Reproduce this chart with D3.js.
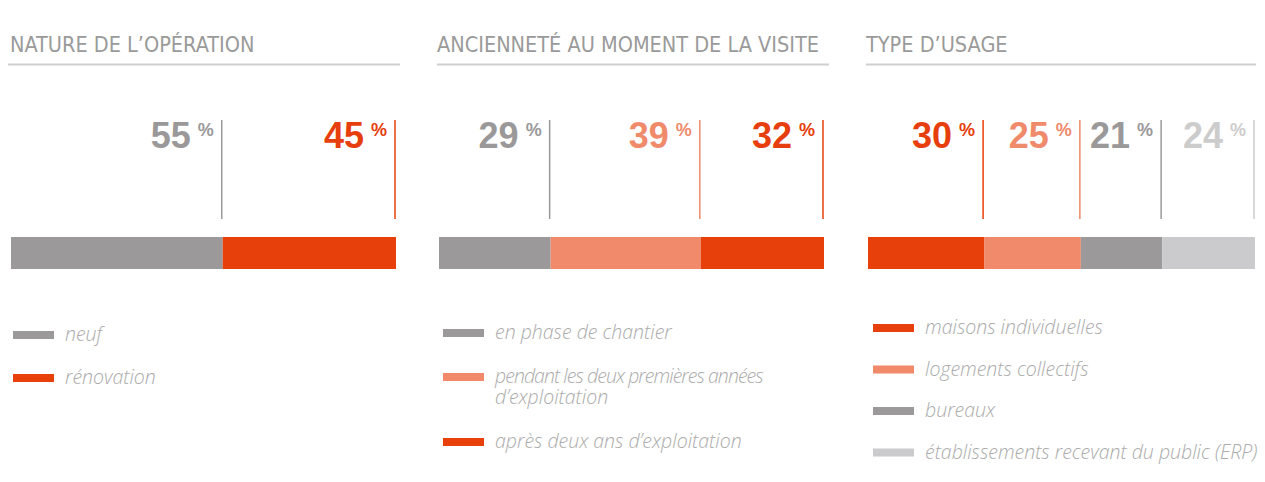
<!DOCTYPE html>
<html><head><meta charset="utf-8">
<script src="https://cdn.jsdelivr.net/npm/d3@7"></script>
<style>
html,body{margin:0;padding:0;background:#fff;overflow:hidden;}
svg{display:block;}
.title{font-family:"Liberation Sans Narrow","DejaVu Sans Condensed",sans-serif;font-size:21.5px;fill:#9a9a9a;}
.num{font-family:"Liberation Sans","Arial",sans-serif;font-weight:bold;font-size:36px;}
.pct{font-family:"Liberation Sans","Arial",sans-serif;font-weight:bold;font-size:18px;}
.leg{font-family:"Open Sans",sans-serif;font-style:italic;font-weight:300;font-size:19.5px;fill:#ababab;}
</style>
</head><body>
<svg id="chart" width="1265" height="482"></svg>
<script>
// ---- data ----
const titles = ["NATURE DE L\u2019OPÉRATION", "ANCIENNETÉ AU MOMENT DE LA VISITE", "TYPE D\u2019USAGE"];

const natureCategories = ["neuf", "rénovation"];
const natureValues = [55, 45];

const ancienneteCategories = ["en phase de chantier", "pendant les deux premières années\nd\u2019exploitation", "après deux ans d\u2019exploitation"];
const ancienneteValues = [29, 39, 32];

const usageCategories = ["maisons individuelles", "logements collectifs", "bureaux", "établissements recevant du public (ERP)"];
const usageValues = [30, 25, 21, 24];

// ---- style / layout ----
const GRAY = "#9c999b", ORANGE = "#e8400b", SALMON = "#f08a6a", LIGHT = "#cbcacc";
const panels = [
  {title: titles[0], cats: natureCategories, vals: natureValues, colors: [GRAY, ORANGE],
   x0: 11, x1: 396, tx: 10, ul: [8, 400], legX: 13, legY: 335, legStep: 43},
  {title: titles[1], cats: ancienneteCategories, vals: ancienneteValues, colors: [GRAY, SALMON, ORANGE],
   x0: 439, x1: 824, tx: 437, ul: [437, 829], legX: 443, legY: 333, legStep: 44},
  {title: titles[2], cats: usageCategories, vals: usageValues, colors: [ORANGE, SALMON, GRAY, LIGHT],
   x0: 868, x1: 1255, tx: 866, ul: [866, 1256], legX: 873, legY: 328, legStep: 41.5}
];
const numColors = {[GRAY]: "#9a9899", [ORANGE]: "#e63e0c", [SALMON]: "#ef8a6b", [LIGHT]: "#cdcccd"};

const svg = d3.select("#chart");
const barY = 237, barH = 32, lineTop = 120, lineBottom = 219;

panels.forEach(p => {
  const g = svg.append("g");
  const x = d3.scaleLinear().domain([0, d3.sum(p.vals)]).range([p.x0, p.x1]);
  const cum = d3.cumsum(p.vals);
  const segs = p.vals.map((v, i) => ({v, start: cum[i] - v, end: cum[i], color: p.colors[i], cat: p.cats[i]}));

  // title
  g.append("text").attr("class", "title").attr("x", p.tx).attr("y", 52).text(p.title);
  g.append("line").attr("x1", p.ul[0]).attr("x2", p.ul[1]).attr("y1", 64.5).attr("y2", 64.5)
    .attr("stroke", "#cfcfcf").attr("stroke-width", 2);

  // bars
  g.selectAll("rect.seg").data(segs).join("rect").attr("class", "seg")
    .attr("x", d => x(d.start)).attr("width", d => x(d.end) - x(d.start))
    .attr("y", barY).attr("height", barH).attr("fill", d => d.color);

  // vertical marker lines
  g.selectAll("line.mk").data(segs).join("line").attr("class", "mk")
    .attr("x1", d => x(d.end) - 1).attr("x2", d => x(d.end) - 1)
    .attr("y1", lineTop).attr("y2", lineBottom)
    .attr("stroke", d => d.color).attr("stroke-width", 1.5);

  // labels
  const lab = g.selectAll("g.lab").data(segs).join("g").attr("class", "lab");
  lab.append("text").attr("class", "pct")
    .attr("x", d => x(d.end) - 9).attr("y", 136).attr("text-anchor", "end")
    .attr("fill", d => numColors[d.color]).text("%");
  lab.append("text").attr("class", "num")
    .attr("x", d => x(d.end) - 32).attr("y", 148).attr("text-anchor", "end")
    .attr("fill", d => numColors[d.color]).text(d => d.v);

  // legend
  let y = p.legY;
  segs.forEach(d => {
    const lines = d.cat.split("\n");
    g.append("rect").attr("x", p.legX).attr("y", y - 4).attr("width", 41).attr("height", 8).attr("fill", d.color);
    lines.forEach((l, i) => {
      g.append("text").attr("class", "leg").attr("x", p.legX + 52)
        .attr("y", y + 6 + i * 20.5)
        .style("letter-spacing", lines.length > 1 && i === 0 ? "-0.95px" : null)
        .text(l);
    });
    y += p.legStep + (lines.length - 1) * 21;
  });
});
</script>
</body></html>
